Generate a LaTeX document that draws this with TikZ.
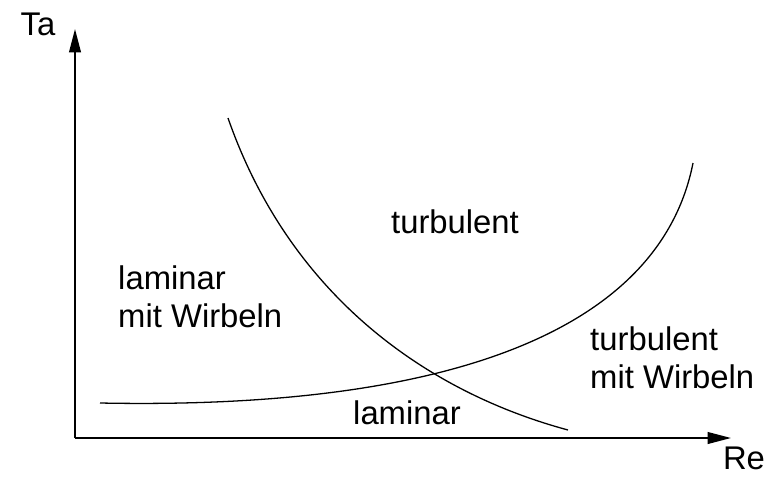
\documentclass[tikz,border=0pt]{standalone}
\usepackage{fontspec}
\setmainfont{Liberation Sans}
\usetikzlibrary{positioning,arrows.meta}

\begin{document}
\begin{tikzpicture}[
	x=0.03cm, y=-0.03cm,
	>={Triangle[length=20pt,width=10pt]},
	axis/.style={
		->,
		line width=1.6pt
	},
	curve/.style={
		line width=1.1pt
	},
	region/.style={
		font=\fontsize{28}{32}\selectfont,
		align=left,
		inner sep=0pt
	}
	]
	\useasboundingbox (0,0) rectangle (765,477);
	
	\coordinate (origin) at (75,438);
	\coordinate (ytip) at (75,29);
	\coordinate (xtip) at (731,438);
	
	\draw[axis] (origin) -- (ytip);
	\draw[axis] (origin) -- (xtip);
	\node[region] (ta) at (38,24) {Ta};
	\node[region] (re) at (744,458) {Re};
	
	% the two boundary curves
	\coordinate (c1a) at (228,118);
	\coordinate (c1b) at (568,430);
	\coordinate (c2a) at (100,403);
	\coordinate (c2b) at (693,163);
	\draw[curve] (c1a) .. controls (288,290) and (420,390) .. (c1b);
	\draw[curve] (c2a) .. controls (450,410) and (660,330) .. (c2b);
	
	\node[region] (turb) at (455,222) {turbulent};
	\node[region, anchor=west] (lamw) at (118,297) {laminar\\mit Wirbeln};
	\node[region, anchor=west] (turbw) at (590,358) {turbulent\\mit Wirbeln};
	\node[region] (lam) at (407,413) {laminar};
	
\end{tikzpicture}
\end{document}
